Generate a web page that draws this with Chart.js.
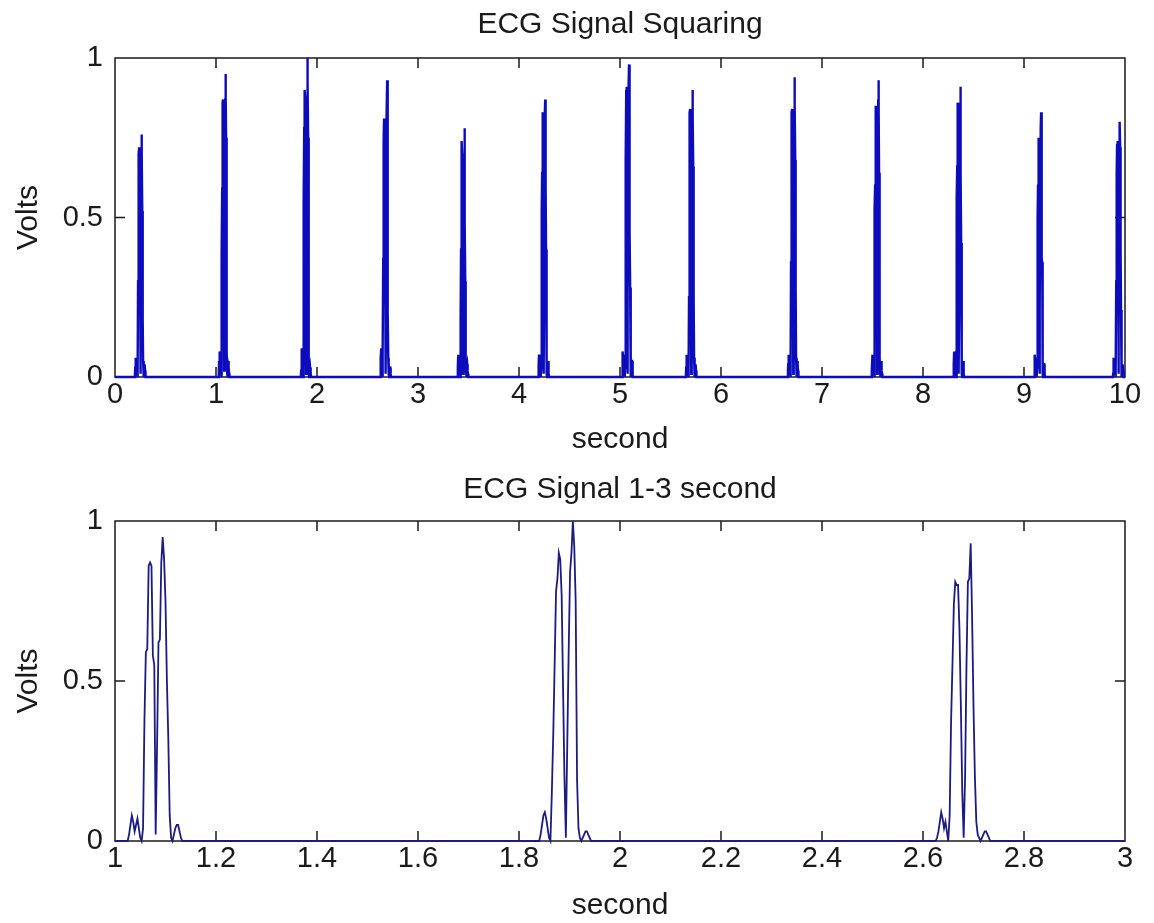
<!DOCTYPE html>
<html>
<head>
<meta charset="utf-8">
<title>ECG Signal Squaring</title>
<script src="https://cdn.jsdelivr.net/npm/chart.js@4.4.1/dist/chart.umd.min.js"></script>
<style>
  html, body { margin: 0; padding: 0; background: #fff; }
  #wrap { position: relative; width: 1154px; height: 923px; }
  .panel { position: absolute; left: 0; }
  #topPanel { top: 0; }
  #bottomPanel { top: 462px; }
</style>
</head>
<body>
<div id="wrap">
  <div class="panel" id="topPanel"><canvas id="squareChart" width="1154" height="462"></canvas></div>
  <div class="panel" id="bottomPanel"><canvas id="zoomChart" width="1154" height="461"></canvas></div>
</div>
<script>
// squared ECG, 360 Hz, baseline is 0 between the QRS complexes
const sampleRate = 360;

// time (s) of the first sample of each QRS complex
const beatOnsets = [0.195, 1.025, 1.840, 2.625, 3.390, 4.190, 5.020, 5.650, 6.660, 7.490, 8.300, 9.100, 9.880];

// squared samples of each complex (Volts): Q bump, two R lobes, S bump
const qrs01 = [0, 0.01, 0.03, 0.06, 0.05, 0.02, 0.04, 0.06, 0.03, 0.01, 0, 0.03, 0.30, 0.44, 0.46, 0.70, 0.72, 0.70, 0.48, 0.40, 0.01, 0.22, 0.46, 0.47, 0.70, 0.76, 0.70, 0.52, 0.36, 0.18, 0.05, 0.01, 0, 0.01, 0.03, 0.04, 0.04, 0.02, 0.01, 0];
const qrs02 = [0, 0.02, 0.05, 0.08, 0.06, 0.03, 0.05, 0.07, 0.04, 0.01, 0, 0.04, 0.38, 0.59, 0.60, 0.86, 0.87, 0.86, 0.58, 0.55, 0.02, 0.30, 0.62, 0.63, 0.87, 0.95, 0.88, 0.75, 0.50, 0.32, 0.08, 0.01, 0, 0.02, 0.04, 0.05, 0.05, 0.03, 0.01, 0];
const qrs03 = [0, 0.02, 0.05, 0.08, 0.09, 0.07, 0.04, 0.01, 0, 0.15, 0.33, 0.55, 0.78, 0.82, 0.90, 0.88, 0.77, 0.48, 0.20, 0.01, 0.30, 0.59, 0.84, 0.90, 1.00, 0.92, 0.75, 0.19, 0.04, 0.01, 0, 0.01, 0.02, 0.03, 0.03, 0.02, 0.01, 0];
const qrs04 = [0, 0.01, 0.03, 0.06, 0.09, 0.07, 0.04, 0.06, 0.03, 0, 0.08, 0.37, 0.55, 0.74, 0.81, 0.80, 0.80, 0.66, 0.42, 0.15, 0.01, 0.20, 0.55, 0.81, 0.82, 0.93, 0.70, 0.42, 0.20, 0.06, 0.02, 0.01, 0, 0.01, 0.02, 0.03, 0.03, 0.02, 0.01, 0];
const qrs05 = [0, 0.01, 0.03, 0.07, 0.05, 0.02, 0.04, 0.06, 0.03, 0.01, 0, 0.03, 0.18, 0.40, 0.56, 0.72, 0.74, 0.70, 0.60, 0.40, 0.01, 0.20, 0.40, 0.55, 0.70, 0.78, 0.70, 0.48, 0.30, 0.15, 0.04, 0.01, 0, 0.01, 0.03, 0.04, 0.04, 0.02, 0.01, 0];
const qrs06 = [0, 0.02, 0.04, 0.07, 0.05, 0.03, 0.05, 0.07, 0.03, 0.01, 0, 0.03, 0.30, 0.52, 0.64, 0.82, 0.83, 0.80, 0.58, 0.50, 0.01, 0.25, 0.55, 0.60, 0.81, 0.87, 0.80, 0.60, 0.40, 0.24, 0.06, 0.01, 0, 0.02, 0.04, 0.05, 0.04, 0.02, 0.01, 0];
const qrs07 = [0, 0.02, 0.04, 0.08, 0.06, 0.03, 0.05, 0.07, 0.03, 0.01, 0, 0.03, 0.36, 0.58, 0.68, 0.90, 0.91, 0.88, 0.66, 0.55, 0.01, 0.28, 0.60, 0.68, 0.92, 0.98, 0.88, 0.70, 0.45, 0.28, 0.07, 0.01, 0, 0.02, 0.04, 0.05, 0.05, 0.03, 0.01, 0];
const qrs08 = [0, 0.01, 0.03, 0.07, 0.05, 0.02, 0.04, 0.06, 0.03, 0.01, 0, 0.03, 0.25, 0.50, 0.60, 0.83, 0.84, 0.82, 0.60, 0.52, 0.01, 0.26, 0.57, 0.62, 0.85, 0.90, 0.82, 0.66, 0.42, 0.25, 0.06, 0.01, 0, 0.01, 0.03, 0.04, 0.04, 0.02, 0.01, 0];
const qrs09 = [0, 0.02, 0.04, 0.07, 0.05, 0.03, 0.05, 0.06, 0.03, 0.01, 0, 0.03, 0.36, 0.56, 0.66, 0.83, 0.84, 0.82, 0.62, 0.53, 0.01, 0.27, 0.60, 0.66, 0.88, 0.94, 0.85, 0.68, 0.44, 0.27, 0.06, 0.01, 0, 0.02, 0.04, 0.05, 0.04, 0.02, 0.01, 0];
const qrs10 = [0, 0.02, 0.04, 0.07, 0.05, 0.03, 0.05, 0.06, 0.03, 0.01, 0, 0.03, 0.53, 0.60, 0.72, 0.84, 0.85, 0.83, 0.60, 0.50, 0.01, 0.25, 0.58, 0.64, 0.87, 0.93, 0.84, 0.64, 0.42, 0.24, 0.06, 0.01, 0, 0.02, 0.04, 0.05, 0.04, 0.02, 0.01, 0];
const qrs11 = [0, 0.02, 0.04, 0.08, 0.06, 0.03, 0.05, 0.06, 0.03, 0.01, 0, 0.03, 0.32, 0.56, 0.66, 0.85, 0.86, 0.84, 0.60, 0.52, 0.01, 0.26, 0.58, 0.64, 0.86, 0.91, 0.83, 0.64, 0.42, 0.25, 0.06, 0.01, 0, 0.02, 0.04, 0.05, 0.04, 0.02, 0.01, 0];
const qrs12 = [0, 0.01, 0.03, 0.07, 0.05, 0.02, 0.04, 0.06, 0.03, 0.01, 0, 0.03, 0.30, 0.50, 0.60, 0.74, 0.75, 0.72, 0.56, 0.46, 0.01, 0.24, 0.52, 0.58, 0.78, 0.83, 0.74, 0.60, 0.37, 0.36, 0.06, 0.01, 0, 0.01, 0.03, 0.04, 0.04, 0.02, 0.01, 0];
const qrs13 = [0, 0.01, 0.03, 0.06, 0.05, 0.02, 0.04, 0.05, 0.03, 0.01, 0, 0.03, 0.30, 0.52, 0.64, 0.73, 0.74, 0.72, 0.56, 0.45, 0.01, 0.23, 0.50, 0.64, 0.74, 0.80, 0.72, 0.58, 0.40, 0.21, 0.05, 0.01, 0, 0.01, 0.03, 0.04, 0.04, 0.02, 0.01, 0];
const beats = [qrs01, qrs02, qrs03, qrs04, qrs05, qrs06, qrs07, qrs08, qrs09, qrs10, qrs11, qrs12, qrs13];

// axis ticks
const fullTicks = [0, 1, 2, 3, 4, 5, 6, 7, 8, 9, 10];
const zoomTicks = [1, 1.2, 1.4, 1.6, 1.8, 2, 2.2, 2.4, 2.6, 2.8, 3];
const voltTicks = [0, 0.5, 1];

const FONT = "'Liberation Sans', Arial, sans-serif";
const INK = '#1a1a1a';
const TICK_LEN = 10;

// join the complexes into one trace, flat zero in between
function buildSignal() {
  const pts = [{ x: 0, y: 0 }];
  beatOnsets.forEach((t0, i) => {
    beats[i].forEach((v, k) => {
      pts.push({ x: +(t0 + k / sampleRate).toFixed(5), y: v });
    });
  });
  pts.push({ x: 10, y: 0 });
  return pts;
}

// box around the plot with inward ticks on all four sides, plus titles
const matlabAxes = {
  id: 'matlabAxes',
  beforeDatasetsDraw(chart) {
    const { ctx, chartArea: a, scales } = chart;
    ctx.save();
    ctx.strokeStyle = INK;
    ctx.lineWidth = 1.5;
    ctx.strokeRect(a.left, a.top, a.right - a.left, a.bottom - a.top);
    ctx.beginPath();
    scales.x.ticks.forEach(t => {
      const px = scales.x.getPixelForValue(t.value);
      if (px <= a.left + 1 || px >= a.right - 1) return;
      ctx.moveTo(px, a.bottom); ctx.lineTo(px, a.bottom - TICK_LEN);
      ctx.moveTo(px, a.top); ctx.lineTo(px, a.top + TICK_LEN);
    });
    scales.y.ticks.forEach(t => {
      const py = scales.y.getPixelForValue(t.value);
      if (py <= a.top + 1 || py >= a.bottom - 1) return;
      ctx.moveTo(a.left, py); ctx.lineTo(a.left + TICK_LEN, py);
      ctx.moveTo(a.right, py); ctx.lineTo(a.right - TICK_LEN, py);
    });
    ctx.stroke();
    ctx.restore();
  },
  afterDraw(chart, args, opts) {
    const { ctx, chartArea: a } = chart;
    const cx = (a.left + a.right) / 2;
    ctx.save();
    ctx.fillStyle = INK;
    ctx.font = `${opts.size}px ${FONT}`;
    ctx.textAlign = 'center';
    ctx.textBaseline = 'middle';
    ctx.fillText(opts.title, cx, a.top - opts.titleGap);
    ctx.fillText(opts.xLabel, cx, a.bottom + opts.xLabelGap);
    ctx.translate(opts.yLabelX, (a.top + a.bottom) / 2);
    ctx.rotate(-Math.PI / 2);
    ctx.fillText(opts.yLabel, 0, 0);
    ctx.restore();
  }
};

function makeChart(canvasId, cfg) {
  const ctx = document.getElementById(canvasId).getContext('2d');
  return new Chart(ctx, {
    type: 'line',
    data: {
      datasets: [{
        data: buildSignal(),
        borderColor: cfg.color,
        borderWidth: cfg.lineWidth,
        pointRadius: 0,
        tension: 0,
        fill: false,
        clip: { left: 0, right: 0, top: 4, bottom: 4 }
      }]
    },
    options: {
      responsive: false,
      animation: false,
      events: [],
      layout: { padding: { left: 0, right: 29, top: cfg.areaTop, bottom: 0 } },
      scales: {
        x: {
          type: 'linear',
          min: cfg.xMin,
          max: cfg.xMax,
          afterBuildTicks: s => { s.ticks = cfg.xTicks.map(v => ({ value: v })); },
          afterFit: s => { s.height = cfg.xAxisHeight; },
          grid: { display: false, drawTicks: false },
          border: { display: false },
          ticks: {
            autoSkip: false,
            maxRotation: 0,
            padding: 1,
            color: INK,
            font: { family: FONT, size: 29 },
            callback: v => String(v)
          }
        },
        y: {
          type: 'linear',
          min: 0,
          max: 1,
          afterBuildTicks: s => { s.ticks = voltTicks.map(v => ({ value: v })); },
          afterFit: s => { s.width = 115; },
          grid: { display: false, drawTicks: false },
          border: { display: false },
          ticks: {
            padding: 12,
            color: INK,
            font: { family: FONT, size: 29 },
            callback: v => String(v)
          }
        }
      },
      plugins: {
        legend: { display: false },
        tooltip: { enabled: false },
        matlabAxes: {
          title: cfg.title,
          xLabel: 'second',
          yLabel: 'Volts',
          size: 30,
          titleGap: cfg.titleGap,
          xLabelGap: cfg.xLabelGap,
          yLabelX: 29
        }
      }
    },
    plugins: [matlabAxes]
  });
}

makeChart('squareChart', {
  title: 'ECG Signal Squaring',
  xMin: 0, xMax: 10, xTicks: fullTicks,
  areaTop: 58, xAxisHeight: 85,
  titleGap: 33, xLabelGap: 63,
  color: '#0c0cbc', lineWidth: 2.4
});

makeChart('zoomChart', {
  title: 'ECG Signal 1-3 second',
  xMin: 1, xMax: 3, xTicks: zoomTicks,
  areaTop: 59, xAxisHeight: 82,
  titleGap: 31, xLabelGap: 65,
  color: '#1c1c80', lineWidth: 1.8
});
</script>
</body>
</html>
